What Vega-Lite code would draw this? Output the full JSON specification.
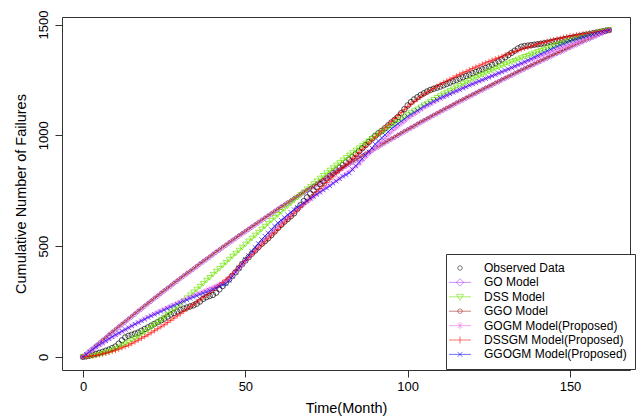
{
"$schema":"https://vega.github.io/schema/vega-lite/v6.json",
"width":568,"height":353,
"autosize":{"type":"none"},
"padding":{"left":62,"top":17,"right":9,"bottom":50},
"background":"white",
"config":{
 "font":"Liberation Sans",
 "view":{"stroke":"#333","strokeWidth":1},
 "axis":{"grid":false,"domain":false,"tickColor":"#333","tickSize":7,"labelFontSize":13,"labelColor":"#000","titleFontSize":14.5,"titleFontWeight":"normal","titleColor":"#000","labelFont":"Liberation Sans","titleFont":"Liberation Sans"},
 "legend":{"padding":8,"strokeColor":"#333","fillColor":"white","labelFontSize":12,"labelFont":"Liberation Sans","labelColor":"#000","symbolSize":100,"symbolStrokeWidth":1,"symbolOffset":0,"labelOffset":18,"rowPadding":2.4,"symbolOpacity":1,"symbolFillColor":"transparent"}
},
"datasets":{"d":[
{"t":0,"a":0,"b":0,"c":0,"d":0,"e":0,"f":0,"g":0},
{"t":1,"a":3,"b":12,"c":0,"d":12,"e":11,"f":1,"g":12},
{"t":2,"a":6,"b":25,"c":2,"d":25,"e":21,"f":3,"g":23},
{"t":3,"a":10,"b":37,"c":4,"d":37,"e":32,"f":5,"g":34},
{"t":4,"a":14,"b":50,"c":6,"d":50,"e":42,"f":7,"g":45},
{"t":5,"a":18,"b":62,"c":10,"d":62,"e":52,"f":10,"g":55},
{"t":6,"a":23,"b":74,"c":13,"d":76,"e":61,"f":13,"g":64},
{"t":7,"a":28,"b":86,"c":18,"d":88,"e":70,"f":17,"g":73},
{"t":8,"a":33,"b":99,"c":23,"d":101,"e":80,"f":21,"g":82},
{"t":9,"a":40,"b":111,"c":29,"d":113,"e":89,"f":25,"g":91},
{"t":10,"a":47,"b":123,"c":35,"d":125,"e":98,"f":30,"g":100},
{"t":11,"a":60,"b":135,"c":42,"d":137,"e":106,"f":35,"g":108},
{"t":12,"a":75,"b":147,"c":49,"d":149,"e":115,"f":41,"g":116},
{"t":13,"a":88,"b":158,"c":57,"d":160,"e":123,"f":47,"g":124},
{"t":14,"a":95,"b":170,"c":65,"d":172,"e":132,"f":53,"g":132},
{"t":15,"a":100,"b":182,"c":74,"d":184,"e":140,"f":60,"g":140},
{"t":16,"a":105,"b":194,"c":83,"d":196,"e":148,"f":68,"g":148},
{"t":17,"a":110,"b":206,"c":92,"d":208,"e":156,"f":76,"g":155},
{"t":18,"a":118,"b":217,"c":102,"d":219,"e":164,"f":84,"g":163},
{"t":19,"a":126,"b":229,"c":112,"d":231,"e":172,"f":92,"g":170},
{"t":20,"a":133,"b":241,"c":122,"d":243,"e":180,"f":100,"g":178},
{"t":21,"a":141,"b":252,"c":133,"d":254,"e":187,"f":109,"g":185},
{"t":22,"a":149,"b":264,"c":144,"d":266,"e":194,"f":118,"g":192},
{"t":23,"a":157,"b":275,"c":155,"d":277,"e":202,"f":127,"g":198},
{"t":24,"a":165,"b":287,"c":166,"d":289,"e":209,"f":136,"g":205},
{"t":25,"a":173,"b":298,"c":178,"d":300,"e":216,"f":145,"g":212},
{"t":26,"a":182,"b":309,"c":190,"d":311,"e":223,"f":155,"g":219},
{"t":27,"a":191,"b":320,"c":202,"d":322,"e":230,"f":165,"g":225},
{"t":28,"a":198,"b":332,"c":214,"d":334,"e":236,"f":175,"g":232},
{"t":29,"a":205,"b":343,"c":226,"d":345,"e":243,"f":185,"g":238},
{"t":30,"a":212,"b":354,"c":239,"d":356,"e":250,"f":195,"g":245},
{"t":31,"a":218,"b":365,"c":252,"d":367,"e":257,"f":206,"g":251},
{"t":32,"a":223,"b":376,"c":265,"d":378,"e":263,"f":216,"g":257},
{"t":33,"a":228,"b":386,"c":278,"d":388,"e":270,"f":227,"g":264},
{"t":34,"a":233,"b":397,"c":291,"d":399,"e":276,"f":237,"g":270},
{"t":35,"a":240,"b":408,"c":304,"d":410,"e":283,"f":248,"g":276},
{"t":36,"a":250,"b":419,"c":317,"d":421,"e":289,"f":258,"g":282},
{"t":37,"a":262,"b":430,"c":330,"d":432,"e":296,"f":269,"g":288},
{"t":38,"a":270,"b":440,"c":344,"d":442,"e":302,"f":279,"g":293},
{"t":39,"a":275,"b":451,"c":357,"d":453,"e":309,"f":290,"g":299},
{"t":40,"a":280,"b":462,"c":371,"d":464,"e":315,"f":300,"g":305},
{"t":41,"a":290,"b":473,"c":385,"d":475,"e":322,"f":312,"g":312},
{"t":42,"a":305,"b":483,"c":398,"d":485,"e":329,"f":324,"g":318},
{"t":43,"a":320,"b":494,"c":412,"d":496,"e":336,"f":336,"g":325},
{"t":44,"a":335,"b":504,"c":425,"d":506,"e":343,"f":348,"g":331},
{"t":45,"a":350,"b":515,"c":439,"d":517,"e":350,"f":360,"g":345},
{"t":46,"a":366,"b":525,"c":453,"d":527,"e":366,"f":375,"g":364},
{"t":47,"a":382,"b":535,"c":466,"d":537,"e":382,"f":390,"g":383},
{"t":48,"a":400,"b":546,"c":480,"d":548,"e":398,"f":405,"g":402},
{"t":49,"a":418,"b":556,"c":493,"d":558,"e":414,"f":420,"g":421},
{"t":50,"a":435,"b":566,"c":507,"d":568,"e":430,"f":435,"g":440},
{"t":51,"a":450,"b":576,"c":521,"d":578,"e":447,"f":449,"g":458},
{"t":52,"a":466,"b":586,"c":534,"d":588,"e":464,"f":463,"g":476},
{"t":53,"a":480,"b":596,"c":548,"d":598,"e":481,"f":477,"g":494},
{"t":54,"a":495,"b":606,"c":561,"d":608,"e":498,"f":491,"g":512},
{"t":55,"a":510,"b":616,"c":575,"d":618,"e":515,"f":505,"g":530},
{"t":56,"a":522,"b":626,"c":588,"d":628,"e":530,"f":519,"g":545},
{"t":57,"a":535,"b":636,"c":601,"d":638,"e":545,"f":533,"g":560},
{"t":58,"a":550,"b":646,"c":615,"d":648,"e":560,"f":547,"g":575},
{"t":59,"a":566,"b":656,"c":628,"d":658,"e":575,"f":561,"g":590},
{"t":60,"a":582,"b":666,"c":641,"d":668,"e":590,"f":575,"g":605},
{"t":61,"a":596,"b":676,"c":654,"d":678,"e":603,"f":590,"g":617},
{"t":62,"a":610,"b":685,"c":667,"d":687,"e":616,"f":604,"g":629},
{"t":63,"a":622,"b":695,"c":680,"d":697,"e":629,"f":619,"g":641},
{"t":64,"a":635,"b":704,"c":693,"d":706,"e":642,"f":633,"g":653},
{"t":65,"a":648,"b":714,"c":706,"d":716,"e":655,"f":648,"g":665},
{"t":66,"a":668,"b":723,"c":718,"d":725,"e":666,"f":662,"g":675},
{"t":67,"a":685,"b":733,"c":731,"d":735,"e":677,"f":676,"g":685},
{"t":68,"a":703,"b":742,"c":743,"d":744,"e":688,"f":690,"g":695},
{"t":69,"a":720,"b":752,"c":756,"d":754,"e":699,"f":704,"g":705},
{"t":70,"a":737,"b":761,"c":768,"d":763,"e":710,"f":718,"g":715},
{"t":71,"a":752,"b":770,"c":780,"d":772,"e":721,"f":732,"g":724},
{"t":72,"a":766,"b":779,"c":792,"d":781,"e":732,"f":746,"g":734},
{"t":73,"a":780,"b":789,"c":805,"d":791,"e":743,"f":759,"g":743},
{"t":74,"a":793,"b":798,"c":817,"d":800,"e":754,"f":773,"g":753},
{"t":75,"a":806,"b":807,"c":829,"d":809,"e":765,"f":787,"g":762},
{"t":76,"a":818,"b":816,"c":841,"d":818,"e":775,"f":800,"g":772},
{"t":77,"a":830,"b":825,"c":852,"d":827,"e":785,"f":813,"g":783},
{"t":78,"a":842,"b":835,"c":864,"d":837,"e":795,"f":827,"g":793},
{"t":79,"a":854,"b":844,"c":875,"d":846,"e":805,"f":840,"g":804},
{"t":80,"a":866,"b":853,"c":887,"d":855,"e":815,"f":853,"g":815},
{"t":81,"a":878,"b":862,"c":898,"d":864,"e":826,"f":867,"g":822},
{"t":82,"a":890,"b":870,"c":909,"d":872,"e":837,"f":881,"g":830},
{"t":83,"a":902,"b":879,"c":920,"d":881,"e":848,"f":894,"g":846},
{"t":84,"a":915,"b":888,"c":931,"d":890,"e":859,"f":908,"g":862},
{"t":85,"a":928,"b":897,"c":942,"d":899,"e":870,"f":922,"g":878},
{"t":86,"a":942,"b":906,"c":952,"d":908,"e":885,"f":936,"g":894},
{"t":87,"a":956,"b":915,"c":963,"d":917,"e":900,"f":950,"g":910},
{"t":88,"a":970,"b":923,"c":973,"d":925,"e":915,"f":964,"g":926},
{"t":89,"a":985,"b":932,"c":984,"d":934,"e":930,"f":978,"g":943},
{"t":90,"a":998,"b":941,"c":994,"d":943,"e":945,"f":992,"g":960},
{"t":91,"a":1010,"b":949,"c":1004,"d":951,"e":959,"f":1006,"g":974},
{"t":92,"a":1020,"b":958,"c":1014,"d":960,"e":973,"f":1020,"g":988},
{"t":93,"a":1032,"b":966,"c":1024,"d":968,"e":987,"f":1034,"g":1002},
{"t":94,"a":1045,"b":975,"c":1034,"d":977,"e":1001,"f":1048,"g":1016},
{"t":95,"a":1058,"b":983,"c":1044,"d":985,"e":1015,"f":1062,"g":1030},
{"t":96,"a":1070,"b":991,"c":1053,"d":993,"e":1027,"f":1076,"g":1041},
{"t":97,"a":1083,"b":1000,"c":1063,"d":1002,"e":1039,"f":1089,"g":1052},
{"t":98,"a":1100,"b":1008,"c":1072,"d":1010,"e":1051,"f":1103,"g":1063},
{"t":99,"a":1118,"b":1017,"c":1082,"d":1019,"e":1063,"f":1116,"g":1074},
{"t":100,"a":1135,"b":1025,"c":1091,"d":1027,"e":1075,"f":1130,"g":1085},
{"t":101,"a":1150,"b":1033,"c":1100,"d":1035,"e":1085,"f":1141,"g":1094},
{"t":102,"a":1162,"b":1041,"c":1109,"d":1043,"e":1095,"f":1152,"g":1103},
{"t":103,"a":1172,"b":1050,"c":1117,"d":1052,"e":1105,"f":1163,"g":1112},
{"t":104,"a":1182,"b":1058,"c":1126,"d":1060,"e":1115,"f":1174,"g":1121},
{"t":105,"a":1190,"b":1066,"c":1135,"d":1068,"e":1125,"f":1185,"g":1130},
{"t":106,"a":1198,"b":1074,"c":1143,"d":1076,"e":1133,"f":1194,"g":1138},
{"t":107,"a":1205,"b":1082,"c":1152,"d":1084,"e":1141,"f":1203,"g":1145},
{"t":108,"a":1210,"b":1090,"c":1160,"d":1092,"e":1149,"f":1212,"g":1153},
{"t":109,"a":1215,"b":1098,"c":1169,"d":1100,"e":1157,"f":1221,"g":1160},
{"t":110,"a":1220,"b":1106,"c":1177,"d":1108,"e":1165,"f":1230,"g":1168},
{"t":111,"a":1226,"b":1114,"c":1185,"d":1116,"e":1172,"f":1238,"g":1174},
{"t":112,"a":1232,"b":1122,"c":1193,"d":1124,"e":1179,"f":1245,"g":1181},
{"t":113,"a":1238,"b":1129,"c":1200,"d":1131,"e":1186,"f":1253,"g":1187},
{"t":114,"a":1244,"b":1137,"c":1208,"d":1139,"e":1193,"f":1260,"g":1194},
{"t":115,"a":1250,"b":1145,"c":1216,"d":1147,"e":1200,"f":1268,"g":1200},
{"t":116,"a":1256,"b":1153,"c":1223,"d":1155,"e":1206,"f":1275,"g":1206},
{"t":117,"a":1262,"b":1160,"c":1231,"d":1162,"e":1213,"f":1282,"g":1213},
{"t":118,"a":1268,"b":1168,"c":1238,"d":1170,"e":1219,"f":1288,"g":1219},
{"t":119,"a":1274,"b":1175,"c":1246,"d":1177,"e":1226,"f":1295,"g":1226},
{"t":120,"a":1280,"b":1183,"c":1253,"d":1185,"e":1232,"f":1302,"g":1232},
{"t":121,"a":1286,"b":1190,"c":1260,"d":1192,"e":1238,"f":1308,"g":1238},
{"t":122,"a":1292,"b":1198,"c":1267,"d":1200,"e":1244,"f":1314,"g":1244},
{"t":123,"a":1298,"b":1205,"c":1273,"d":1207,"e":1250,"f":1321,"g":1250},
{"t":124,"a":1304,"b":1213,"c":1280,"d":1215,"e":1256,"f":1327,"g":1256},
{"t":125,"a":1310,"b":1220,"c":1287,"d":1222,"e":1262,"f":1333,"g":1262},
{"t":126,"a":1318,"b":1227,"c":1293,"d":1229,"e":1268,"f":1339,"g":1268},
{"t":127,"a":1326,"b":1235,"c":1300,"d":1237,"e":1274,"f":1345,"g":1274},
{"t":128,"a":1334,"b":1242,"c":1306,"d":1244,"e":1280,"f":1350,"g":1281},
{"t":129,"a":1342,"b":1250,"c":1313,"d":1252,"e":1286,"f":1356,"g":1287},
{"t":130,"a":1352,"b":1257,"c":1319,"d":1259,"e":1292,"f":1362,"g":1293},
{"t":131,"a":1362,"b":1264,"c":1325,"d":1266,"e":1298,"f":1367,"g":1299},
{"t":132,"a":1372,"b":1271,"c":1331,"d":1273,"e":1304,"f":1372,"g":1306},
{"t":133,"a":1382,"b":1279,"c":1336,"d":1281,"e":1310,"f":1378,"g":1312},
{"t":134,"a":1392,"b":1286,"c":1342,"d":1288,"e":1316,"f":1383,"g":1319},
{"t":135,"a":1400,"b":1293,"c":1348,"d":1295,"e":1322,"f":1388,"g":1325},
{"t":136,"a":1403,"b":1300,"c":1354,"d":1302,"e":1328,"f":1393,"g":1332},
{"t":137,"a":1405,"b":1307,"c":1359,"d":1309,"e":1334,"f":1398,"g":1339},
{"t":138,"a":1407,"b":1314,"c":1365,"d":1316,"e":1340,"f":1402,"g":1346},
{"t":139,"a":1409,"b":1321,"c":1370,"d":1323,"e":1346,"f":1407,"g":1353},
{"t":140,"a":1411,"b":1328,"c":1376,"d":1330,"e":1352,"f":1412,"g":1360},
{"t":141,"a":1413,"b":1335,"c":1381,"d":1337,"e":1358,"f":1416,"g":1367},
{"t":142,"a":1415,"b":1342,"c":1386,"d":1344,"e":1364,"f":1420,"g":1374},
{"t":143,"a":1418,"b":1349,"c":1392,"d":1351,"e":1370,"f":1424,"g":1381},
{"t":144,"a":1421,"b":1356,"c":1397,"d":1358,"e":1376,"f":1428,"g":1388},
{"t":145,"a":1424,"b":1363,"c":1402,"d":1365,"e":1382,"f":1432,"g":1395},
{"t":146,"a":1427,"b":1370,"c":1407,"d":1372,"e":1388,"f":1435,"g":1401},
{"t":147,"a":1430,"b":1376,"c":1412,"d":1378,"e":1393,"f":1438,"g":1407},
{"t":148,"a":1433,"b":1383,"c":1416,"d":1385,"e":1399,"f":1442,"g":1413},
{"t":149,"a":1436,"b":1390,"c":1421,"d":1392,"e":1404,"f":1445,"g":1419},
{"t":150,"a":1439,"b":1397,"c":1426,"d":1399,"e":1410,"f":1448,"g":1425},
{"t":151,"a":1442,"b":1404,"c":1430,"d":1406,"e":1415,"f":1450,"g":1430},
{"t":152,"a":1445,"b":1410,"c":1435,"d":1412,"e":1421,"f":1453,"g":1434},
{"t":153,"a":1448,"b":1417,"c":1439,"d":1419,"e":1426,"f":1455,"g":1439},
{"t":154,"a":1451,"b":1423,"c":1444,"d":1425,"e":1432,"f":1458,"g":1443},
{"t":155,"a":1454,"b":1430,"c":1448,"d":1432,"e":1437,"f":1460,"g":1448},
{"t":156,"a":1457,"b":1436,"c":1452,"d":1437,"e":1442,"f":1462,"g":1452},
{"t":157,"a":1460,"b":1443,"c":1456,"d":1444,"e":1448,"f":1464,"g":1456},
{"t":158,"a":1463,"b":1449,"c":1460,"d":1450,"e":1453,"f":1467,"g":1460},
{"t":159,"a":1466,"b":1456,"c":1464,"d":1457,"e":1459,"f":1469,"g":1464},
{"t":160,"a":1469,"b":1462,"c":1468,"d":1463,"e":1464,"f":1471,"g":1468},
{"t":161,"a":1472,"b":1469,"c":1472,"d":1470,"e":1470,"f":1473,"g":1472},
{"t":162,"a":1475,"b":1475,"c":1475,"d":1475,"e":1475,"f":1475,"g":1475}
]},
"data":{"name":"d"},
"transform":[{"fold":["a","b","c","d","e","f","g"],"as":["s","v"]}],
"encoding":{
 "x":{"field":"t","type":"quantitative","scale":{"domain":[-6.48,168.48],"nice":false,"zero":false},"axis":{"values":[0,50,100,150],"format":"d","title":"Time(Month)","labelPadding":3,"titlePadding":8}},
 "y":{"field":"v","type":"quantitative","scale":{"domain":[-59,1534],"nice":false,"zero":false},"axis":{"values":[0,500,1000,1500],"format":"d","title":"Cumulative Number of Failures","labelAngle":-90,"labelAlign":"center","labelBaseline":"bottom","labelPadding":5,"titlePadding":9}}
},
"layer":[
 {"transform":[{"filter":"datum.s != 'a'"}],
  "mark":{"type":"line","strokeWidth":1},
  "encoding":{"color":{"field":"s","type":"nominal","legend":null,
   "scale":{"domain":["b","c","d","e","f","g"],"range":["rgba(160,32,240,0.55)","rgba(110,230,0,0.7)","rgba(165,42,42,0.75)","rgba(238,130,238,0.75)","rgba(255,0,0,0.6)","rgba(0,0,255,0.6)"]}}}},
 {"transform":[{"filter":"datum.s == 'a'"}],"mark":{"type":"point","shape":"circle","filled":false,"size":30,"color":"rgba(0,0,0,0.85)","strokeWidth":0.8,"opacity":1}},
 {"transform":[{"filter":"datum.s == 'b'"}],"mark":{"type":"point","shape":"diamond","filled":false,"size":30,"color":"rgba(160,32,240,0.55)","strokeWidth":1,"opacity":1}},
 {"transform":[{"filter":"datum.s == 'c'"}],"mark":{"type":"point","shape":"triangle-down","filled":false,"size":30,"color":"rgba(110,230,0,0.7)","strokeWidth":1,"opacity":1}},
 {"transform":[{"filter":"datum.s == 'd'"}],"mark":{"type":"point","shape":"circle","filled":false,"size":7,"color":"rgba(165,42,42,0.75)","strokeWidth":1,"opacity":1}},
 {"transform":[{"filter":"datum.s == 'e'"}],"mark":{"type":"point","shape":"M0,-1V1M-1,0H1M-0.7,-0.7L0.7,0.7M-0.7,0.7L0.7,-0.7","filled":false,"size":25,"color":"rgba(238,130,238,0.75)","strokeWidth":1,"opacity":1}},
 {"transform":[{"filter":"datum.s == 'f'"}],"mark":{"type":"point","shape":"M-1,0H1M0,-1V1","filled":false,"size":30,"color":"rgba(255,0,0,0.6)","strokeWidth":1,"opacity":1}},
 {"transform":[{"filter":"datum.s == 'g'"}],"mark":{"type":"point","shape":"M-1,-1L1,1M-1,1L1,-1","filled":false,"size":20,"color":"rgba(0,0,255,0.6)","strokeWidth":1,"opacity":1}},
 {"transform":[{"filter":"false"}],
  "mark":{"type":"point","filled":false},
  "encoding":{
   "shape":{"field":"s","type":"nominal",
    "scale":{"domain":["a","b","c","d","e","f","g"],"range":[
     "M-0.45,0A0.45,0.45 0 1,0 0.45,0A0.45,0.45 0 1,0 -0.45,0Z",
     "M-2.2,0H2.2M0,-0.75L0.75,0L0,0.75L-0.75,0Z",
     "M-2.2,0H2.2M-0.7,-0.5L0.7,-0.5L0,0.7Z",
     "M-2.2,0H2.2M-0.45,0A0.45,0.45 0 1,0 0.45,0A0.45,0.45 0 1,0 -0.45,0Z",
     "M-2.2,0H2.2M0,-0.7V0.7M-0.5,-0.5L0.5,0.5M-0.5,0.5L0.5,-0.5",
     "M-2.2,0H2.2M0,-0.7V0.7",
     "M-2.2,0H2.2M-0.5,-0.5L0.5,0.5M-0.5,0.5L0.5,-0.5"]},
    "legend":{"title":null,"orient":"none","legendX":384,"legendY":237,"direction":"vertical","labelExpr":"datum.value=='a'?'Observed Data':datum.value=='b'?'GO Model':datum.value=='c'?'DSS Model':datum.value=='d'?'GGO Model':datum.value=='e'?'GOGM Model(Proposed)':datum.value=='f'?'DSSGM Model(Proposed)':'GGOGM Model(Proposed)'"}},
   "stroke":{"field":"s","type":"nominal",
    "scale":{"domain":["a","b","c","d","e","f","g"],"range":["rgba(0,0,0,0.55)","rgba(160,32,240,0.5)","rgba(110,230,0,0.6)","rgba(165,42,42,0.6)","rgba(238,130,238,0.7)","rgba(255,0,0,0.55)","rgba(0,0,255,0.55)"]},
    "legend":{"title":null,"orient":"none","legendX":384,"legendY":237,"direction":"vertical","labelExpr":"datum.value=='a'?'Observed Data':datum.value=='b'?'GO Model':datum.value=='c'?'DSS Model':datum.value=='d'?'GGO Model':datum.value=='e'?'GOGM Model(Proposed)':datum.value=='f'?'DSSGM Model(Proposed)':'GGOGM Model(Proposed)'"}}
  }}
]
}
